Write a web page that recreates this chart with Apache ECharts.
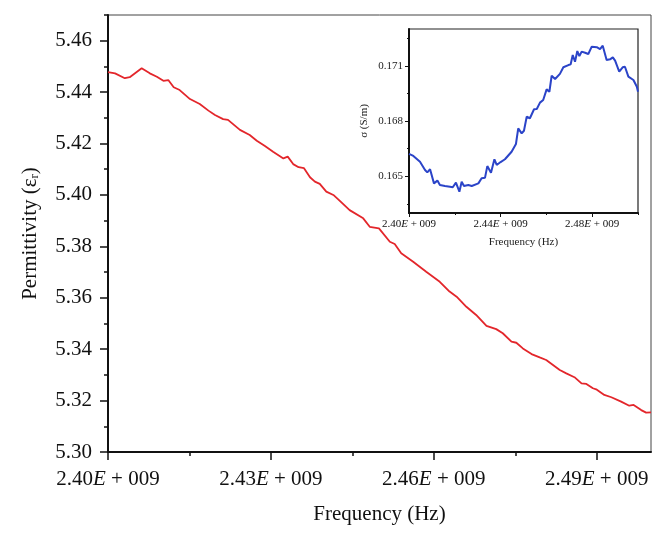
<!DOCTYPE html>
<html>
<head>
<meta charset="utf-8">
<script src="https://cdn.jsdelivr.net/npm/echarts@6/dist/echarts.min.js"></script>
<style>
  html, body { margin: 0; padding: 0; background: #fff; }
  #chart { width: 665px; height: 538px; }
</style>
</head>
<body>
<div id="chart"></div>
<script>
// ---- Main chart data (frequency in GHz, i.e. ×1E+009 Hz) ----
const freqMain = [2.4000,2.4013,2.4031,2.4040,2.4062,2.4077,2.4090,2.4102,2.4111,2.4121,2.4132,2.4151,2.4169,2.4185,2.4197,2.4212,2.4221,2.4243,2.4261,2.4274,2.4289,2.4304,2.4323,2.4331,2.4341,2.4351,2.4361,2.4372,2.4381,2.4390,2.4402,2.4415,2.4424,2.4445,2.4470,2.4482,2.4499,2.4519,2.4528,2.4540,2.4562,2.4586,2.4611,2.4629,2.4642,2.4660,2.4678,2.4697,2.4715,2.4727,2.4743,2.4752,2.4764,2.4780,2.4795,2.4807,2.4832,2.4844,2.4859,2.4872,2.4881,2.4893,2.4899,2.4914,2.4927,2.4945,2.4960,2.4968,2.4982,2.4991,2.5000];
const permittivity = [5.4478,5.4473,5.4454,5.4458,5.4493,5.4473,5.4460,5.4444,5.4447,5.4419,5.4408,5.4373,5.4354,5.4328,5.4311,5.4295,5.4292,5.4253,5.4233,5.4211,5.4190,5.4168,5.4142,5.4149,5.4120,5.4108,5.4104,5.4069,5.4052,5.4043,5.4013,5.4000,5.3983,5.3941,5.3909,5.3876,5.3870,5.3818,5.3809,5.3773,5.3740,5.3701,5.3662,5.3624,5.3604,5.3565,5.3533,5.3491,5.3478,5.3462,5.3429,5.3425,5.3403,5.3381,5.3368,5.3358,5.3319,5.3306,5.3291,5.3267,5.3265,5.3248,5.3244,5.3222,5.3213,5.3196,5.3180,5.3183,5.3163,5.3153,5.3154];

// ---- Inset data ----
const freqInset = [2.4000,2.4019,2.4048,2.4070,2.4080,2.4092,2.4109,2.4124,2.4135,2.4157,2.4179,2.4191,2.4205,2.4220,2.4230,2.4240,2.4259,2.4274,2.4303,2.4317,2.4332,2.4342,2.4358,2.4373,2.4383,2.4400,2.4419,2.4427,2.4448,2.4467,2.4477,2.4492,2.4502,2.4514,2.4528,2.4546,2.4558,2.4572,2.4586,2.4601,2.4613,2.4623,2.4638,2.4659,2.4674,2.4696,2.4706,2.4715,2.4725,2.4735,2.4744,2.4754,2.4769,2.4783,2.4798,2.4820,2.4834,2.4846,2.4863,2.4878,2.4890,2.4900,2.4918,2.4933,2.4943,2.4958,2.4980,2.4995,2.5000];
const conductivity = [0.16621,0.16610,0.16579,0.16534,0.16521,0.16538,0.16461,0.16476,0.16452,0.16447,0.16443,0.16440,0.16465,0.16416,0.16470,0.16447,0.16452,0.16447,0.16461,0.16489,0.16492,0.16555,0.16519,0.16592,0.16561,0.16577,0.16592,0.16588,0.16633,0.16675,0.16760,0.16733,0.16747,0.16823,0.16815,0.16864,0.16865,0.16900,0.16914,0.16972,0.16959,0.17046,0.17028,0.17056,0.17092,0.17104,0.17108,0.17159,0.17122,0.17180,0.17153,0.17177,0.17171,0.17164,0.17204,0.17201,0.17191,0.17209,0.17132,0.17135,0.17146,0.17128,0.17068,0.17092,0.17095,0.17041,0.17023,0.16986,0.16959];

// ---- Tick labels ----
const mainXTicks = [2.40, 2.43, 2.46, 2.49];
const mainXMinor = [2.415, 2.445, 2.475];
const mainYTicks = [5.30, 5.32, 5.34, 5.36, 5.38, 5.40, 5.42, 5.44, 5.46];
const mainYMinor = [5.31, 5.33, 5.35, 5.37, 5.39, 5.41, 5.43, 5.45, 5.47];
const insetXTicks = [2.40, 2.44, 2.48];
const insetXMinor = [2.42, 2.46, 2.50];
const insetYTicks = [0.165, 0.168, 0.171];
const insetYMinor = [0.1635, 0.1665, 0.1695, 0.1725];

const SERIF = '"Liberation Serif", "Times New Roman", serif';

function pair(a, b) { return a.map((v, i) => [v, b[i]]); }

function sciLabel(fs) {
  return {
    fontFamily: SERIF, fontSize: fs, color: '#111',
    formatter: v => '{n|' + v.toFixed(2) + '}{e|E}{n| + 009}',
    rich: {
      n: { fontFamily: SERIF, fontSize: fs, color: '#111' },
      e: { fontFamily: SERIF, fontSize: fs, color: '#111', fontStyle: 'italic' }
    }
  };
}

const chart = echarts.init(document.getElementById('chart'), null, { renderer: 'canvas' });

const blankAxis = { axisLine: { show: false }, axisLabel: { show: false }, splitLine: { show: false } };

const option = {
  animation: false,
  backgroundColor: '#fff',
  grid: [
    { left: 108, top: 15, width: 543, height: 437, show: true, borderColor: '#444', borderWidth: 1, backgroundColor: 'transparent' },
    { left: 409, top: 29, width: 229, height: 184, show: true, borderColor: '#222', borderWidth: 1.2, backgroundColor: '#fff' }
  ],
  xAxis: [
    {
      type: 'value', gridIndex: 0, min: 2.40, max: 2.50,
      name: 'Frequency (Hz)', nameLocation: 'middle', nameGap: 52,
      nameTextStyle: { fontFamily: SERIF, fontSize: 21, color: '#111' },
      axisLine: { show: true, onZero: false, lineStyle: { color: '#111', width: 2 } },
      axisTick: { show: true, inside: false, length: 8, lineStyle: { color: '#111', width: 1.5 }, customValues: mainXTicks },
      axisLabel: Object.assign({ margin: 17, customValues: mainXTicks }, sciLabel(21)),
      splitLine: { show: false }
    },
    Object.assign({
      type: 'value', gridIndex: 0, min: 2.40, max: 2.50, position: 'bottom',
      axisTick: { show: true, inside: false, length: 4, lineStyle: { color: '#111', width: 1.5 }, customValues: mainXMinor }
    }, blankAxis),
    {
      type: 'value', gridIndex: 1, min: 2.40, max: 2.50,
      name: 'Frequency (Hz)', nameLocation: 'middle', nameGap: 24,
      nameTextStyle: { fontFamily: SERIF, fontSize: 11, color: '#222' },
      axisLine: { show: true, onZero: false, lineStyle: { color: '#111', width: 2 } },
      axisTick: { show: true, inside: false, length: 4, lineStyle: { color: '#111', width: 1 }, customValues: insetXTicks },
      axisLabel: Object.assign({ margin: 6, customValues: insetXTicks }, sciLabel(11)),
      splitLine: { show: false }
    },
    Object.assign({
      type: 'value', gridIndex: 1, min: 2.40, max: 2.50, position: 'bottom',
      axisTick: { show: true, inside: false, length: 2, lineStyle: { color: '#111', width: 1 }, customValues: insetXMinor }
    }, blankAxis)
  ],
  yAxis: [
    {
      type: 'value', gridIndex: 0, min: 5.30, max: 5.47,
      name: 'Permittivity (ε{sub|r})', nameLocation: 'middle', nameGap: 67, nameRotate: 90,
      nameTextStyle: {
        fontFamily: SERIF, fontSize: 21, color: '#111',
        rich: { sub: { fontFamily: SERIF, fontSize: 13, color: '#111', verticalAlign: 'bottom', padding: [8, 0, 0, 0] } }
      },
      axisLine: { show: true, onZero: false, lineStyle: { color: '#111', width: 2 } },
      axisTick: { show: true, inside: false, length: 8, lineStyle: { color: '#111', width: 1.5 }, customValues: mainYTicks },
      axisLabel: { margin: 16, fontFamily: SERIF, fontSize: 21, color: '#111', customValues: mainYTicks, formatter: v => v.toFixed(2) },
      splitLine: { show: false }
    },
    Object.assign({
      type: 'value', gridIndex: 0, min: 5.30, max: 5.47, position: 'left',
      axisTick: { show: true, inside: false, length: 4, lineStyle: { color: '#111', width: 1.5 }, customValues: mainYMinor }
    }, blankAxis),
    {
      type: 'value', gridIndex: 1, min: 0.163, max: 0.173,
      name: 'σ (S/m)', nameLocation: 'middle', nameGap: 39, nameRotate: 90,
      nameTextStyle: { fontFamily: SERIF, fontSize: 11, color: '#222' },
      axisLine: { show: true, onZero: false, lineStyle: { color: '#111', width: 2 } },
      axisTick: { show: true, inside: false, length: 4, lineStyle: { color: '#111', width: 1 }, customValues: insetYTicks },
      axisLabel: { margin: 6, fontFamily: SERIF, fontSize: 11, color: '#222', customValues: insetYTicks, formatter: v => v.toFixed(3) },
      splitLine: { show: false }
    },
    Object.assign({
      type: 'value', gridIndex: 1, min: 0.163, max: 0.173, position: 'left',
      axisTick: { show: true, inside: false, length: 2, lineStyle: { color: '#111', width: 1 }, customValues: insetYMinor }
    }, blankAxis)
  ],
  series: [
    {
      type: 'line', xAxisIndex: 0, yAxisIndex: 0,
      data: pair(freqMain, permittivity),
      showSymbol: false, smooth: false,
      lineStyle: { color: '#e3262b', width: 1.8 }
    },
    {
      type: 'line', xAxisIndex: 2, yAxisIndex: 2,
      data: pair(freqInset, conductivity),
      showSymbol: false, smooth: false,
      lineStyle: { color: '#2b44c8', width: 2 }
    }
  ]
};

chart.setOption(option);
</script>
</body>
</html>
